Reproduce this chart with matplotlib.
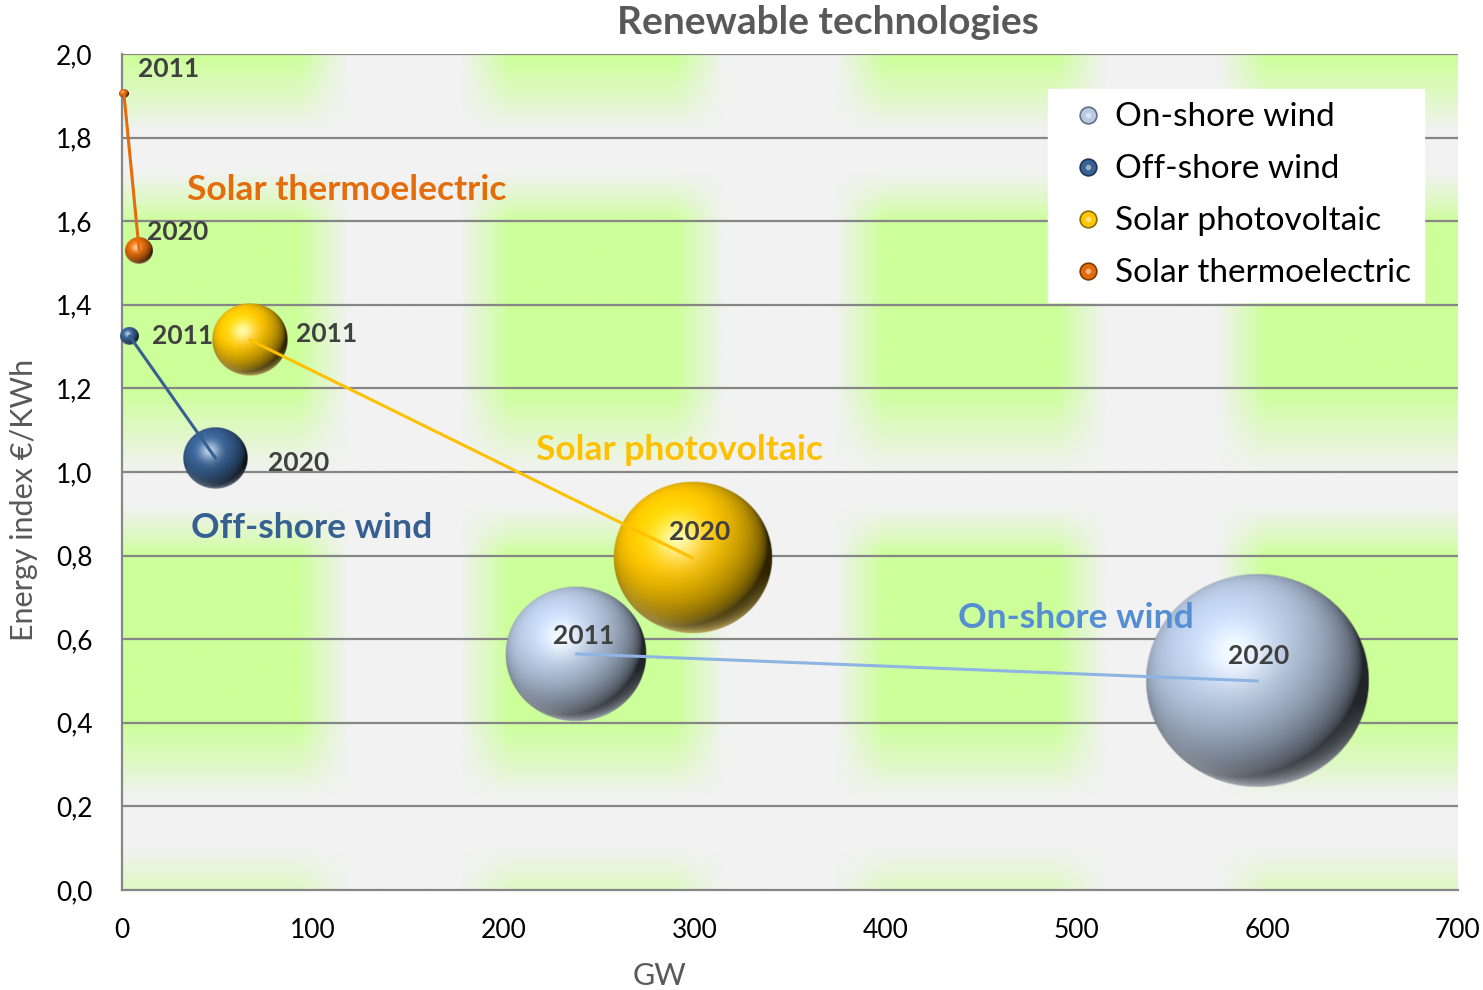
import numpy as np
import matplotlib
matplotlib.use("Agg")
from matplotlib import pyplot as plt
from matplotlib.lines import Line2D
from matplotlib.legend_handler import HandlerTuple

plt.rcParams['font.family'] = ['Lato', 'DejaVu Sans']

## data (bubble size = GW)
series = ['On-shore wind', 'Off-shore wind', 'Solar photovoltaic', 'Solar thermoelectric']
gw_2011 = [238, 4, 67, 1]
gw_2020 = [595, 49, 299, 9]
idx_2011 = [0.565, 1.325, 1.316, 1.905]
idx_2020 = [0.500, 1.033, 0.794, 1.530]
size_2011 = [238, 4, 67, 1]
size_2020 = [595, 49, 299, 9]
yticks = [0.0, 0.2, 0.4, 0.6, 0.8, 1.0, 1.2, 1.4, 1.6, 1.8, 2.0]
xticks = [0, 100, 200, 300, 400, 500, 600, 700]

## styles
ball_rgb = [(0.72, 0.79, 0.89), (0.22, 0.38, 0.58), (1.00, 0.78, 0.00), (0.89, 0.42, 0.04)]
line_col = ['#8DB4E2', '#376092', '#FFC000', '#E46C0A']
name_col = ['#558ED5', '#376092', '#FFC000', '#E46C0A']
name_pos = [(438, 0.651), (36, 0.866), (217, 1.053), (34, 1.675)]
off11 = [(7, 18, 'center'), (22, 0, 'left'), (46, 6, 'left'), (14, 25, 'left')]
off20 = [(1, 25, 'center'), (52, -5, 'left'), (7, 26, 'center'), (8, 18, 'left')]
grey = np.array([242, 242, 242]) / 255.
green = np.array([204, 255, 153]) / 255.


def sphere(rgb, n=241):
    t = np.linspace(-1, 1, n)
    u, v = np.meshgrid(t, -t)
    r2 = u**2 + v**2
    w = np.sqrt(np.clip(1 - r2, 0, 1))
    L = np.array([-0.35, 0.45, 0.82]); L /= np.linalg.norm(L)
    H = L + np.array([0, 0, 1.]); H /= np.linalg.norm(H)
    d = np.clip(u*L[0] + v*L[1] + w*L[2], 0, 1)
    s = np.clip(u*H[0] + v*H[1] + w*H[2], 0, 1)**20
    base = np.array(rgb)
    col = base * (0.18 + 0.92*d**0.65)[..., None] + (0.65*s)[..., None] * (1 - base)
    rim = np.clip(r2, 0, 1)**3 * np.clip(-v - 0.2, 0, 1) * 0.9
    col = col*(1 - rim[..., None]) + rim[..., None]*(0.45*base + 0.55)
    alpha = np.clip((1 - np.sqrt(r2)) * n / 3., 0, 1)
    return np.dstack([np.clip(col, 0, 1), alpha])


def bg_pattern(nx=700, ny=400):
    xs = np.linspace(0, 700, nx)
    ys = np.linspace(2.0, 0.0, ny)
    cw = np.zeros(nx)
    for a, b in [(-20, 92), (203, 290), (400, 490), (600, 720)]:
        dist = np.maximum(a - xs, 0) + np.maximum(xs - b, 0)
        cw = np.maximum(cw, np.clip(1 - dist / 26., 0, 1))
    ry = np.interp(ys, [0.0, 0.1, 0.22, 0.3, 0.4, 0.8, 0.85, 0.92, 1.0, 1.1, 1.2, 1.6, 1.65, 1.72, 1.82, 1.9, 2.0],
                       [0.5, 0.0, 0.0, 0.5, 1.0, 1.0, 0.5, 0.0, 0.0, 0.5, 1.0, 1.0, 0.5, 0.0, 0.0, 0.5, 1.0])
    wgt = ry[:, None] * cw[None, :]
    return grey[None, None, :] + wgt[..., None] * (green - grey)[None, None, :]


fig = plt.figure(figsize=(14.83, 9.9), dpi=100)
ax = fig.add_axes([122/1483, 100/990, 1336/1483, 836/990])
ax.imshow(bg_pattern(), extent=[0, 700, 0, 2.0], aspect='auto', zorder=0, interpolation='bilinear')

pxx = 700. / 1336.   # data per pixel, x
pxy = 2.0 / 836.     # data per pixel, y
for i in range(4):
    for gx, gy, sz in [(gw_2011[i], idx_2011[i], size_2011[i]), (gw_2020[i], idx_2020[i], size_2020[i])]:
        rx = 4.6 * np.sqrt(sz) * pxx
        ry = 4.4 * np.sqrt(sz) * pxy
        ax.imshow(sphere(ball_rgb[i]), extent=[gx - rx, gx + rx, gy - ry, gy + ry],
                  aspect='auto', zorder=3, interpolation='bilinear', clip_on=False)
    ax.plot([gw_2011[i], gw_2020[i]], [idx_2011[i], idx_2020[i]], color=line_col[i],
            linewidth=2.2, zorder=4, solid_capstyle='round', clip_on=False)
    ax.annotate('2011', (gw_2011[i], idx_2011[i]), xytext=off11[i][:2], textcoords='offset pixels',
                ha=off11[i][2], va='center', fontsize=19, fontweight='bold', color='#404040', zorder=6)
    ax.annotate('2020', (gw_2020[i], idx_2020[i]), xytext=off20[i][:2], textcoords='offset pixels',
                ha=off20[i][2], va='center', fontsize=19, fontweight='bold', color='#404040', zorder=6)
    ax.text(name_pos[i][0], name_pos[i][1], series[i], color=name_col[i], fontsize=25.5,
            fontweight='bold', ha='left', va='center', zorder=6)

ax.set_xlim(0, 700)
ax.set_ylim(0, 2.0)
ax.set_xticks(xticks)
ax.set_yticks(yticks)
ax.set_yticklabels([f'{t:.1f}'.replace('.', ',') for t in yticks])
ax.tick_params(length=0, labelsize=19, colors='black')
ax.tick_params(axis='y', pad=21)
ax.tick_params(axis='x', pad=20)
for t in yticks[1:]:
    ax.axhline(t, color='#868686', linewidth=1.6, zorder=1)
for sp in ['right', 'top']:
    ax.spines[sp].set_visible(False)
for sp in ['left', 'bottom']:
    ax.spines[sp].set_color('#868686')
    ax.spines[sp].set_linewidth(1.6)
    ax.spines[sp].set_zorder(2)

ax.set_xlabel('GW', fontsize=22, color='#595959')
ax.xaxis.set_label_coords(0.4027, -0.086)
ax.set_ylabel('Energy index €/KWh', fontsize=22, color='#595959')
ax.yaxis.set_label_coords(-0.063, 0.4665)
fig.text(828/1483, 1 - 22/990, 'Renewable technologies', ha='center', va='center',
         fontsize=28, fontweight='bold', color='#595959')

hdl = []
for i in range(4):
    b = Line2D([], [], linestyle='none', marker='o', markersize=12, markerfacecolor=ball_rgb[i],
               markeredgecolor=tuple(0.55*c for c in ball_rgb[i]), markeredgewidth=1.2)
    h = Line2D([], [], linestyle='none', marker='o', markersize=4,
               markerfacecolor=tuple(0.5 + 0.5*c for c in ball_rgb[i]), markeredgewidth=0)
    hdl.append((b, h))
leg = ax.legend(hdl, series, handler_map={tuple: HandlerTuple(ndivide=1, pad=0)},
                loc='upper left', bbox_to_anchor=(1048/1483, 1 - 89/990), bbox_transform=fig.transFigure,
                frameon=True, fancybox=False, framealpha=1, edgecolor='white', facecolor='white',
                fontsize=24, labelspacing=0.66, handlelength=1.6, handletextpad=0.0,
                borderpad=0.4, borderaxespad=0)
leg.set_zorder(8)

fig.savefig('out.png', dpi=100)
